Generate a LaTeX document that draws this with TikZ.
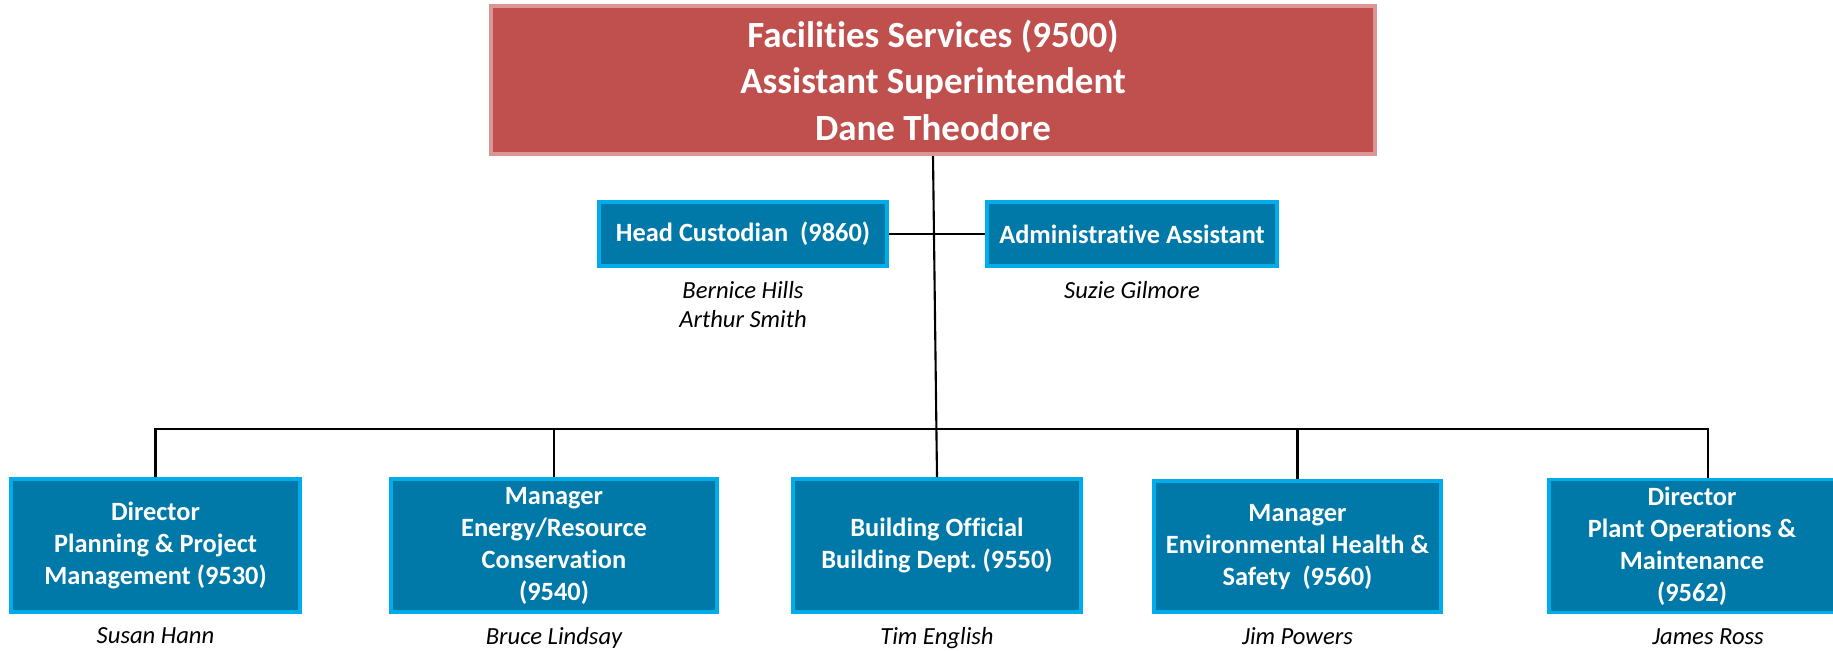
\documentclass[tikz,border=0pt]{standalone}
\usepackage{fontspec}
\setmainfont[Ligatures=NoCommon]{Carlito}
\usetikzlibrary{positioning}
\definecolor{capred}{HTML}{C0504D}
\definecolor{caprim}{HTML}{D99694}
\definecolor{deptblue}{HTML}{0079A8}
\definecolor{deptrim}{HTML}{00ACEA}
\frenchspacing

\begin{document}
\begin{tikzpicture}[x=0.01cm,y=-0.01cm,
  chief/.style={draw=caprim,fill=capred,line width=1.2pt,text=white,align=center,
    font=\fontsize{10.5}{13.2}\selectfont\bfseries,minimum width=8.84cm,minimum height=1.48cm},
  dept/.style={draw=deptrim,fill=deptblue,line width=1.1pt,text=white,align=center,inner sep=2pt,
    font=\fontsize{7.5}{9.1}\selectfont\bfseries,minimum width=#1,minimum height=1.33cm},
  who/.style={inner sep=0pt,align=center,font=\fontsize{7}{8.3}\selectfont\itshape},
  wire/.style={line width=0.6pt}]
  \clip (0,0) rectangle (1833,650);
  \node[chief] (top) at (933,80) {Facilities Services (9500)\\Assistant Superintendent\\Dane Theodore};
  \node[dept=2.88cm,minimum height=0.64cm] (hc) at (743,234) {Head Custodian~ (9860)};
  \node[dept=2.90cm,minimum height=0.64cm] (aa) at (1132,234) {Administrative Assistant};
  \node[who,below=1.3mm of hc] (hcn) {Bernice Hills\\Arthur Smith};
  \node[who,below=1.3mm of aa] (aan) {Suzie Gilmore};
  \node[dept=2.89cm] (b1) at (155.5,545.5) {Director\\Planning \& Project\\Management (9530)};
  \node[dept=3.26cm] (b2) at (554,545.5) {Manager\\Energy/Resource\\Conservation\\(9540)};
  \node[dept=2.88cm] (b3) at (937,545.5) {Building Official\\Building Dept. (9550)};
  \node[dept=2.87cm,minimum height=1.31cm] (b4) at (1297.5,546.5) {Manager\\Environmental Health \&\\Safety~ (9560)};
  \node[dept=2.86cm] (b5) at (1692,546) {Director\\Plant Operations \&\\Maintenance\\(9562)};
  \node[who,below=1.3mm of b1] (n1) {Susan Hann};
  \node[who,below=1.3mm of b2] (n2) {Bruce Lindsay};
  \node[who,below=1.3mm of b3] (n3) {Tim English};
  \node[who,below=1.3mm of b4] (n4) {Jim Powers};
  \node[who,below=1.3mm of b5,xshift=1.6mm] (n5) {James Ross};
  \coordinate (bus) at (0,429);
  \draw[wire] (top.south) -- (b3.north);
  \draw[wire] (hc.east) -- (aa.west);
  \draw[wire] (b1.north) |- ([xshift=1.6mm]b5.north |- bus) -- ([xshift=1.6mm]b5.north);
  \foreach \b in {b2,b4} \draw[wire] (\b.north) -- (\b.north |- bus);
\end{tikzpicture}
\end{document}
